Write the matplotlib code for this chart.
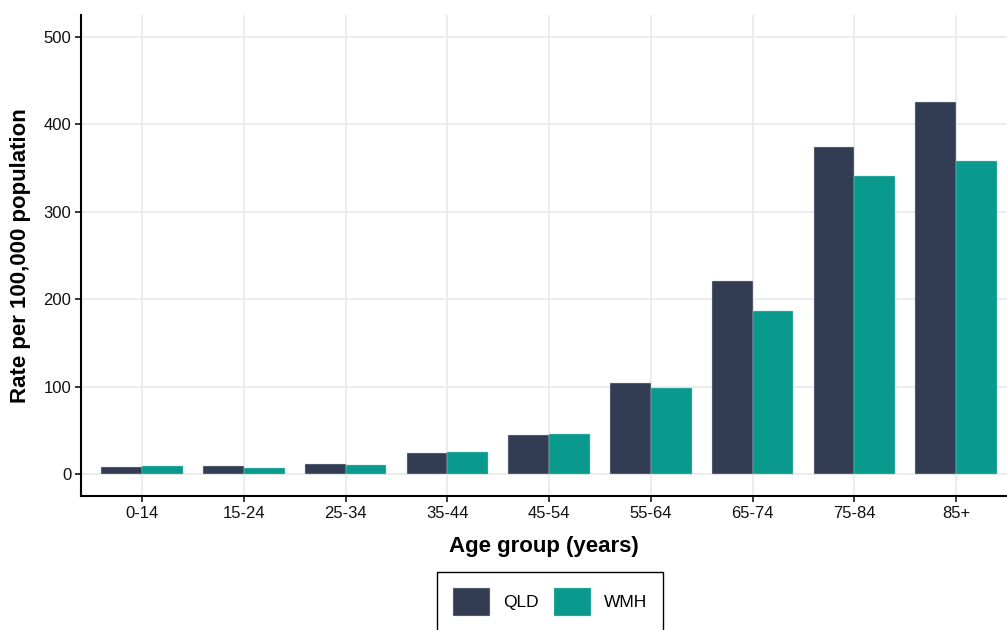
import matplotlib
matplotlib.use("Agg")
import matplotlib.pyplot as plt
import numpy as np

# data
age_groups = ["0-14", "15-24", "25-34", "35-44", "45-54", "55-64", "65-74", "75-84", "85+"]
qld = [8, 9.5, 11.5, 24, 44.5, 104, 221, 373.5, 425.5]
wmh = [9.5, 6.5, 10, 25.5, 45.5, 98.5, 186.5, 340.5, 358]
series_names = ["QLD", "WMH"]
y_ticks = [0, 100, 200, 300, 400, 500]

COL_QLD = "#323D54"
COL_WMH = "#0A9A8D"

plt.rcParams["font.family"] = ["Liberation Sans", "DejaVu Sans"]

W, H = 1007, 630
fig = plt.figure(figsize=(W / 100, H / 100), dpi=100)
ax = fig.add_axes([81 / W, (H - 496) / H, (W - 81) / W, (496 - 15) / H])

x = np.arange(len(age_groups))
bw = 0.4
ax.bar(x - bw / 2, qld, bw, color=COL_QLD, edgecolor="#c8ccd4", linewidth=0.3,
       label=series_names[0], zorder=3)
ax.bar(x + bw / 2, wmh, bw, color=COL_WMH, edgecolor="#8fd0c8", linewidth=0.3,
       label=series_names[1], zorder=3)

ax.set_xlim(-0.6, 8.5)
ax.set_ylim(-25, 525)
ax.set_xticks(x)
ax.set_xticklabels(age_groups)
ax.set_yticks(y_ticks)

ax.grid(True, color="#EBEBEB", linewidth=1.3, zorder=0)
ax.set_axisbelow(True)

for side in ["top", "right"]:
    ax.spines[side].set_visible(False)
for side in ["left", "bottom"]:
    ax.spines[side].set_linewidth(1.5)
    ax.spines[side].set_color("black")

ax.tick_params(axis="both", length=4, width=1.1, color="black",
               labelsize=12, labelcolor="#111111", pad=3)

ax.set_xlabel("Age group (years)", fontsize=16, fontweight="bold", labelpad=11)
ax.set_ylabel("Rate per 100,000 population", fontsize=16, fontweight="bold", labelpad=9)

leg = fig.legend(loc="upper center", bbox_to_anchor=(550 / W, 1 - 572 / H),
                 ncol=2, frameon=True, fancybox=False, framealpha=1,
                 fontsize=12.5, handlelength=2.15, handleheight=2.15,
                 handletextpad=0.75, columnspacing=0.85, borderpad=0.9,
                 borderaxespad=0)
leg.get_frame().set_edgecolor("black")
leg.get_frame().set_linewidth(1.0)

fig.savefig("out.png", dpi=100)
